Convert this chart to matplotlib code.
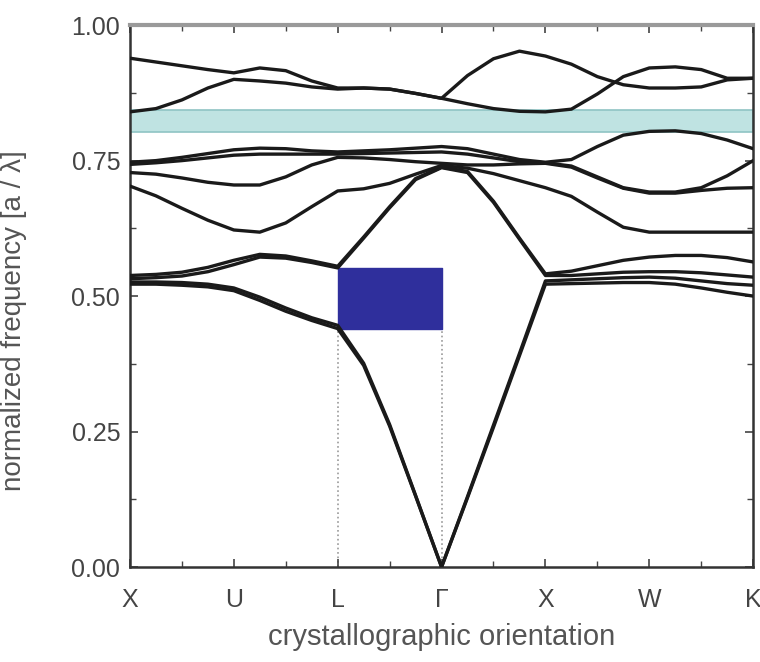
import numpy as np
import matplotlib
matplotlib.use("Agg")
import matplotlib.pyplot as plt
from matplotlib.ticker import MultipleLocator

plt.rcParams['font.family'] = ['Liberation Sans', 'DejaVu Sans']

# k-path positions (0.25 steps) and labels
k = np.arange(25) * 0.25
k_labels = ['X', 'U', 'L', 'Γ', 'X', 'W', 'K']

# band frequencies, one value per k position
b1 = [0.522, 0.522, 0.520, 0.517, 0.510, 0.492, 0.472, 0.455, 0.440, 0.372, 0.260, 0.131, 0.000,
      0.128, 0.258, 0.390, 0.522, 0.523, 0.524, 0.525, 0.525, 0.522, 0.515, 0.507, 0.500]
b2 = [0.526, 0.526, 0.525, 0.522, 0.515, 0.498, 0.478, 0.460, 0.446, 0.376, 0.263, 0.132, 0.000,
      0.130, 0.262, 0.394, 0.528, 0.530, 0.532, 0.534, 0.535, 0.533, 0.528, 0.523, 0.520]
b3 = [0.532, 0.534, 0.537, 0.545, 0.558, 0.572, 0.570, 0.562, 0.552, 0.607, 0.663, 0.715, 0.737,
      0.728, 0.673, 0.605, 0.538, 0.538, 0.541, 0.544, 0.545, 0.545, 0.543, 0.539, 0.535]
b4 = [0.538, 0.540, 0.544, 0.553, 0.566, 0.577, 0.574, 0.565, 0.555, 0.609, 0.665, 0.717, 0.738,
      0.730, 0.675, 0.607, 0.541, 0.546, 0.556, 0.566, 0.572, 0.575, 0.575, 0.571, 0.563]
b5 = [0.703, 0.685, 0.662, 0.640, 0.622, 0.618, 0.635, 0.665, 0.694, 0.698, 0.708, 0.725, 0.741,
      0.736, 0.726, 0.713, 0.700, 0.684, 0.655, 0.627, 0.618, 0.618, 0.618, 0.618, 0.618]
b6 = [0.728, 0.725, 0.718, 0.710, 0.705, 0.705, 0.720, 0.742, 0.756, 0.755, 0.752, 0.748, 0.745,
      0.742, 0.742, 0.744, 0.745, 0.738, 0.718, 0.699, 0.690, 0.690, 0.695, 0.699, 0.700]
b7 = [0.743, 0.746, 0.750, 0.755, 0.760, 0.762, 0.762, 0.762, 0.762, 0.763, 0.764, 0.765, 0.766,
      0.762, 0.755, 0.748, 0.746, 0.740, 0.720, 0.700, 0.692, 0.692, 0.700, 0.722, 0.750]
b8 = [0.747, 0.750, 0.756, 0.763, 0.770, 0.773, 0.772, 0.768, 0.766, 0.768, 0.770, 0.773, 0.776,
      0.772, 0.762, 0.752, 0.747, 0.752, 0.776, 0.797, 0.804, 0.805, 0.800, 0.788, 0.772]
b9 = [0.840, 0.846, 0.862, 0.884, 0.900, 0.897, 0.893, 0.886, 0.882, 0.884, 0.882, 0.874, 0.865,
      0.855, 0.846, 0.841, 0.840, 0.845, 0.873, 0.905, 0.921, 0.923, 0.918, 0.902, 0.902]
b10 = [0.939, 0.932, 0.925, 0.918, 0.912, 0.921, 0.916, 0.897, 0.884, 0.884, 0.882, 0.874, 0.865,
       0.907, 0.938, 0.952, 0.943, 0.928, 0.905, 0.890, 0.884, 0.884, 0.886, 0.899, 0.902]
bands = [b1, b2, b3, b4, b5, b6, b7, b8, b9, b10]

# gaps: complete gap (cyan) and L-Gamma stop gap (blue)
full_gap = (0.803, 0.843)
stop_gap = (2, 3, 0.440, 0.552)

fig = plt.figure(figsize=(7.6, 6.62), dpi=100)
ax = fig.add_axes([0.171, 0.1435, 0.820, 0.8185])

ax.axhspan(full_gap[0], full_gap[1], facecolor='#bfe3e2', edgecolor='#8fc4c4', lw=1.2, zorder=1)
ax.fill_between([stop_gap[0], stop_gap[1]], stop_gap[2], stop_gap[3],
                color='#2f2f9c', zorder=1)
ax.vlines([stop_gap[0], stop_gap[1]], 0, stop_gap[2], colors='#999999',
          linestyles=':', lw=1.2, zorder=1)

for b in bands:
    ax.plot(k, b, color='#1a1a1a', lw=2.4, solid_joinstyle='round', zorder=3)

ax.set_xlim(0, 6)
ax.set_ylim(0, 1)
ax.set_xticks(range(7))
ax.set_xticklabels(k_labels)
ax.xaxis.set_minor_locator(MultipleLocator(0.5))
ax.set_yticks([0, 0.25, 0.5, 0.75, 1.0])
ax.set_yticklabels(['0.00', '0.25', '0.50', '0.75', '1.00'])
ax.yaxis.set_minor_locator(MultipleLocator(0.125))
ax.tick_params(which='both', direction='in', top=True, right=True, colors='#444444')
ax.tick_params(which='major', length=6, width=1.2, labelsize=18, labelcolor='#444444')
ax.tick_params(which='minor', length=4, width=1.0)
ax.tick_params(axis='x', pad=15)
ax.tick_params(axis='y', pad=7)

for side in ['left', 'bottom', 'right']:
    ax.spines[side].set_color('#333333')
    ax.spines[side].set_linewidth(1.8)
ax.spines['top'].set_color('#9a9a9a')
ax.spines['top'].set_linewidth(3)

ax.set_xlabel('crystallographic orientation', fontsize=21, color='#555555', labelpad=8)
ax.set_ylabel('normalized frequency [a / λ]', fontsize=20, color='#555555')
ax.yaxis.set_label_coords(-0.165, 0.455)

fig.savefig('out.png', dpi=100)
